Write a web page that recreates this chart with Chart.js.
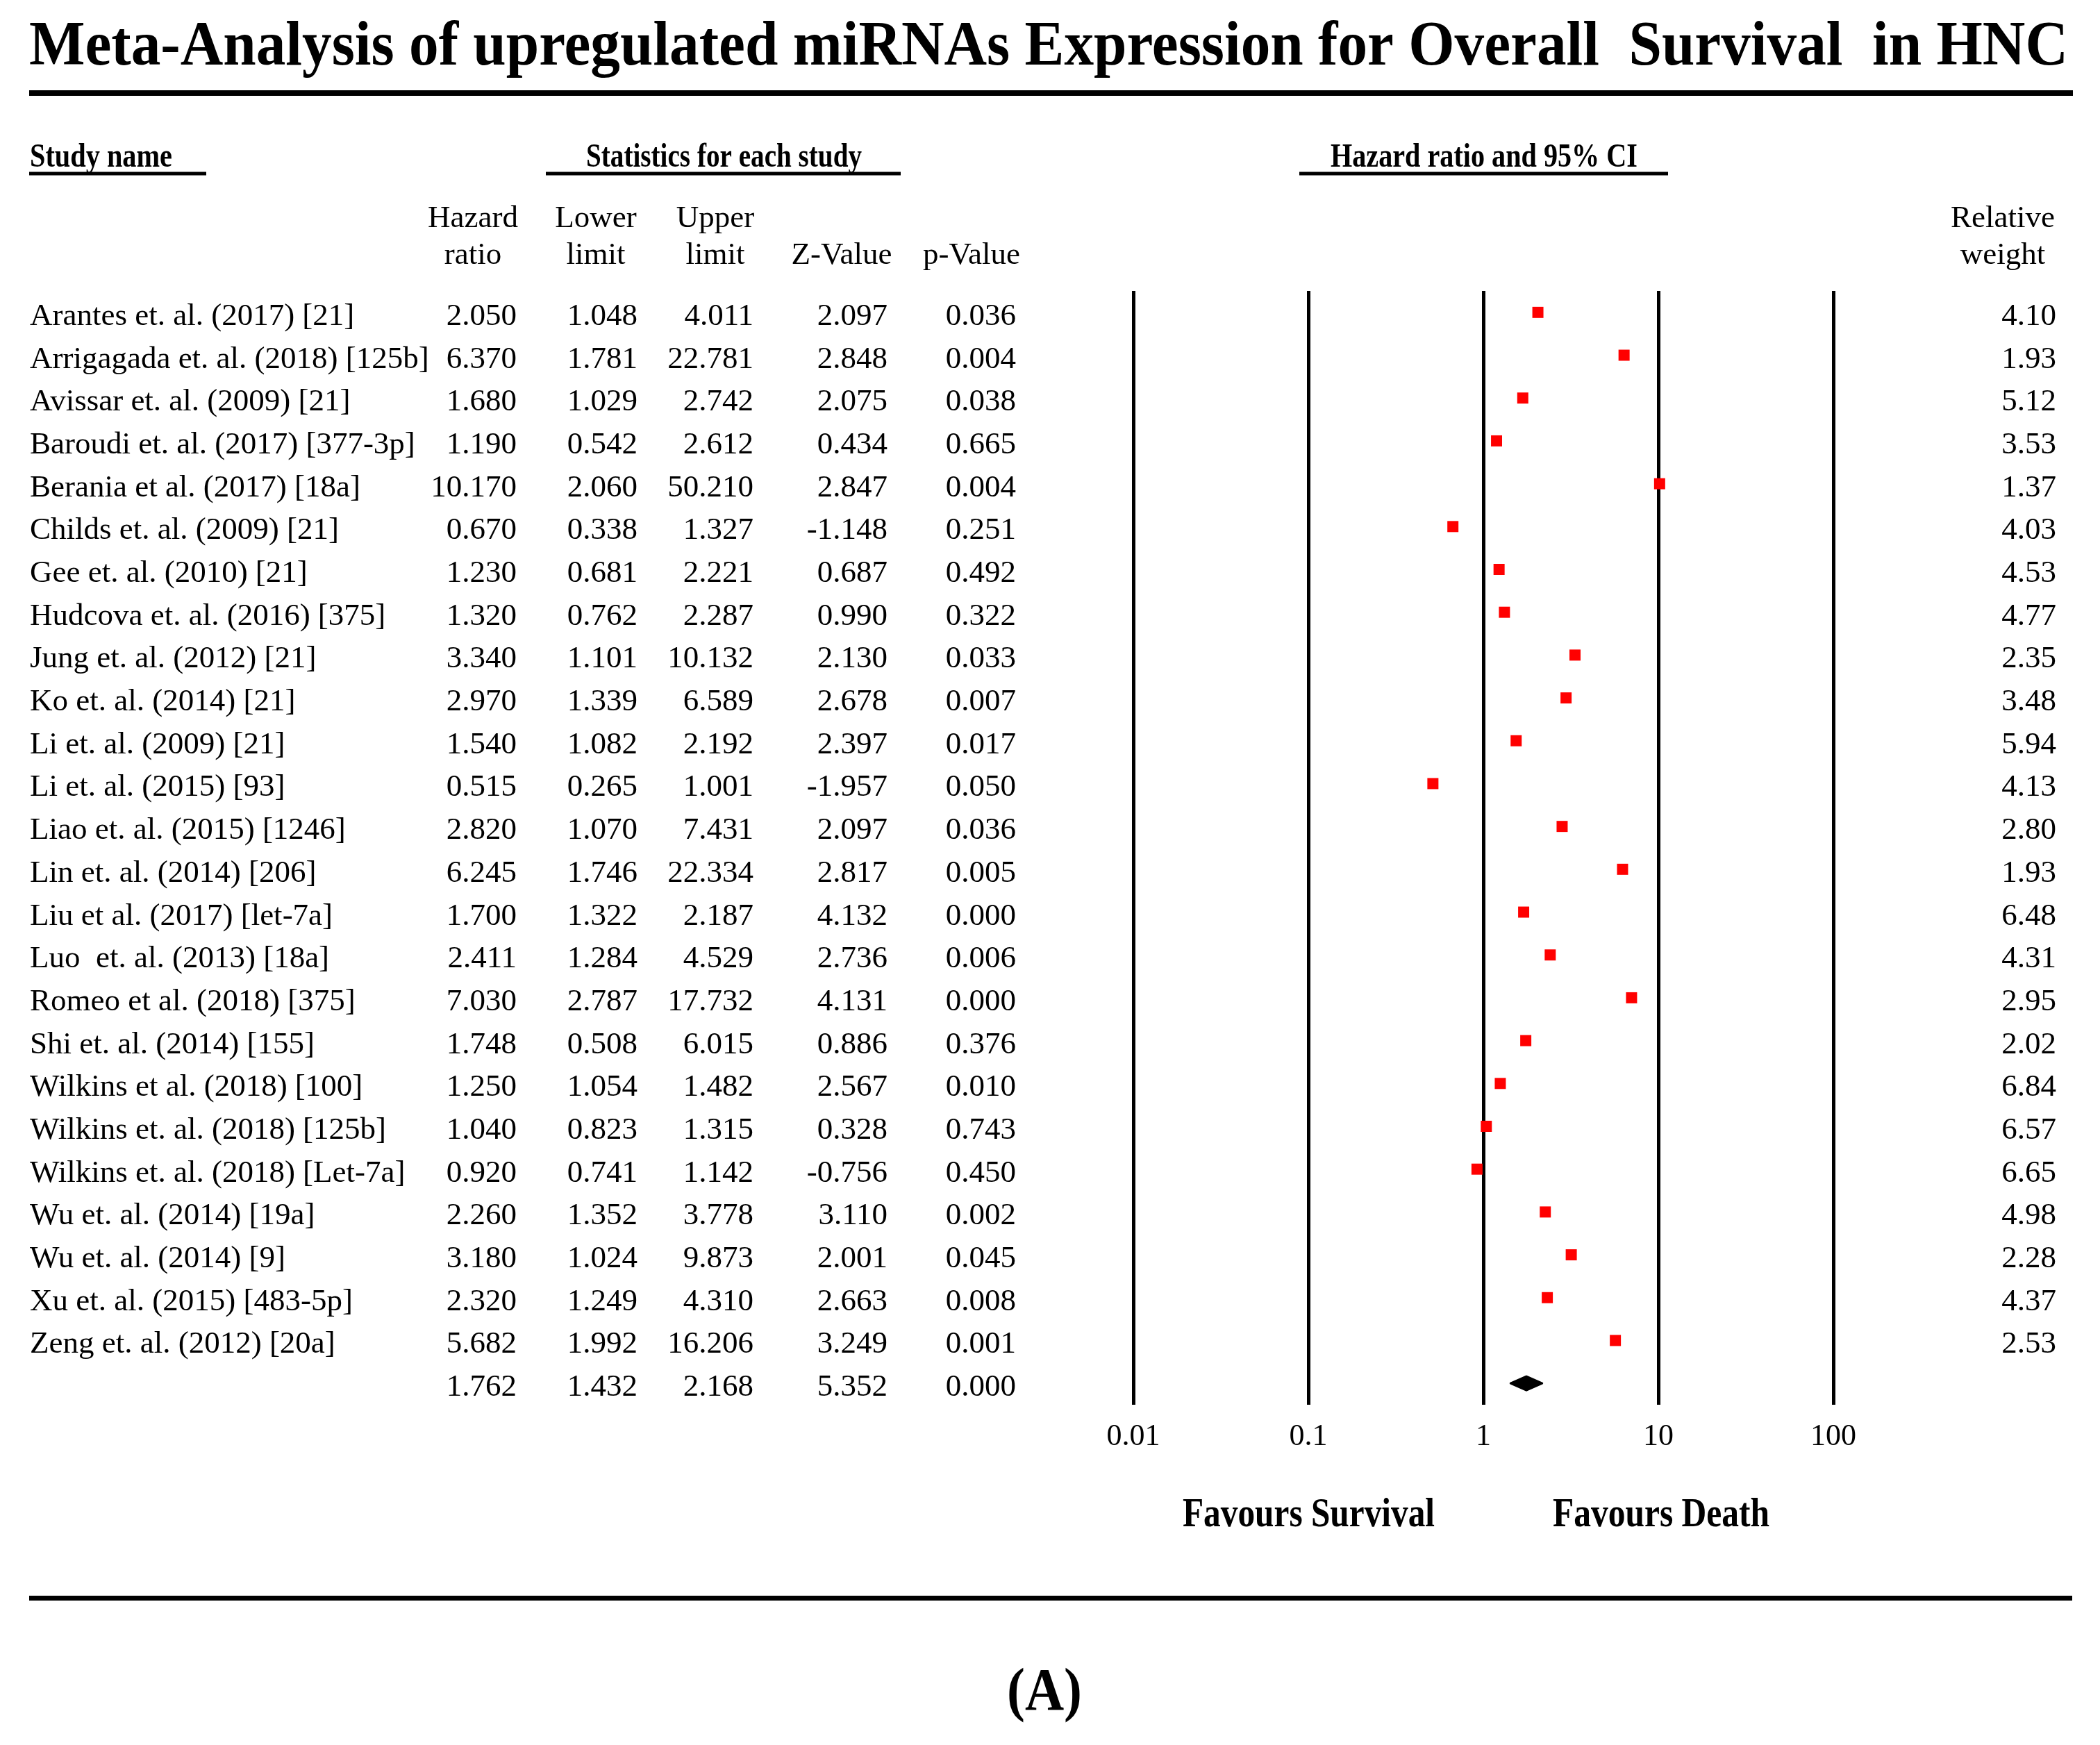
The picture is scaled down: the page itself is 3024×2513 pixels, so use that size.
<!DOCTYPE html>
<html>
<head>
<meta charset="utf-8">
<title>Meta-Analysis of upregulated miRNAs Expression for Overall Survival in HNC</title>
<script src="https://cdn.jsdelivr.net/npm/chart.js@4.4.1/dist/chart.umd.min.js"></script>
<style>
  html, body { margin: 0; padding: 0; background: #fff; }
  canvas { display: block; }
</style>
</head>
<body>
<canvas id="forest" width="3024" height="2513"></canvas>
<script>
// values
const studies = [
  "Arantes et. al. (2017) [21]",
  "Arrigagada et. al. (2018) [125b]",
  "Avissar et. al. (2009) [21]",
  "Baroudi et. al. (2017) [377-3p]",
  "Berania et al. (2017) [18a]",
  "Childs et. al. (2009) [21]",
  "Gee et. al. (2010) [21]",
  "Hudcova et. al. (2016) [375]",
  "Jung et. al. (2012) [21]",
  "Ko et. al. (2014) [21]",
  "Li et. al. (2009) [21]",
  "Li et. al. (2015) [93]",
  "Liao et. al. (2015) [1246]",
  "Lin et. al. (2014) [206]",
  "Liu et al. (2017) [let-7a]",
  "Luo  et. al. (2013) [18a]",
  "Romeo et al. (2018) [375]",
  "Shi et. al. (2014) [155]",
  "Wilkins et al. (2018) [100]",
  "Wilkins et. al. (2018) [125b]",
  "Wilkins et. al. (2018) [Let-7a]",
  "Wu et. al. (2014) [19a]",
  "Wu et. al. (2014) [9]",
  "Xu et. al. (2015) [483-5p]",
  "Zeng et. al. (2012) [20a]"
];
const hazardRatio = [2.050, 6.370, 1.680, 1.190, 10.170, 0.670, 1.230, 1.320, 3.340, 2.970, 1.540, 0.515, 2.820,
  6.245, 1.700, 2.411, 7.030, 1.748, 1.250, 1.040, 0.920, 2.260, 3.180, 2.320, 5.682];
const lowerLimit = [1.048, 1.781, 1.029, 0.542, 2.060, 0.338, 0.681, 0.762, 1.101, 1.339, 1.082, 0.265, 1.070,
  1.746, 1.322, 1.284, 2.787, 0.508, 1.054, 0.823, 0.741, 1.352, 1.024, 1.249, 1.992];
const upperLimit = [4.011, 22.781, 2.742, 2.612, 50.210, 1.327, 2.221, 2.287, 10.132, 6.589, 2.192, 1.001, 7.431,
  22.334, 2.187, 4.529, 17.732, 6.015, 1.482, 1.315, 1.142, 3.778, 9.873, 4.310, 16.206];
const zValue = [2.097, 2.848, 2.075, 0.434, 2.847, -1.148, 0.687, 0.990, 2.130, 2.678, 2.397, -1.957, 2.097,
  2.817, 4.132, 2.736, 4.131, 0.886, 2.567, 0.328, -0.756, 3.110, 2.001, 2.663, 3.249];
const pValue = [0.036, 0.004, 0.038, 0.665, 0.004, 0.251, 0.492, 0.322, 0.033, 0.007, 0.017, 0.050, 0.036,
  0.005, 0.000, 0.006, 0.000, 0.376, 0.010, 0.743, 0.450, 0.002, 0.045, 0.008, 0.001];
const relWeight = [4.10, 1.93, 5.12, 3.53, 1.37, 4.03, 4.53, 4.77, 2.35, 3.48, 5.94, 4.13, 2.80,
  1.93, 6.48, 4.31, 2.95, 2.02, 6.84, 6.57, 6.65, 4.98, 2.28, 4.37, 2.53];
// pooled estimate: hazard ratio, lower, upper, Z, p
const summaryStats = [1.762, 1.432, 2.168, 5.352, 0.000];

const axisTicks = [0.01, 0.1, 1, 10, 100];
const axisTickLabels = ["0.01", "0.1", "1", "10", "100"];

const serif = '"Liberation Serif", "Times New Roman", serif';

// draw text squeezed/stretched to a given width (the headings are condensed)
function fitText(ctx, text, left, baseline, width) {
  const natural = ctx.measureText(text).width;
  ctx.save();
  ctx.translate(left, baseline);
  ctx.scale(width / natural, 1);
  ctx.textAlign = "left";
  ctx.fillText(text, 0, 0);
  ctx.restore();
}

const forestText = {
  id: "forestText",
  beforeDraw(chart) {
    const ctx = chart.ctx;
    ctx.save();
    ctx.fillStyle = "#fff";
    ctx.fillRect(0, 0, chart.width, chart.height);
    ctx.restore();
  },
  afterDatasetsDraw(chart) {
    // pooled diamond
    const ctx = chart.ctx;
    const xs = chart.scales.x;
    const ys = chart.scales.y;
    const yc = ys.getPixelForValue(studies.length);
    const xl = xs.getPixelForValue(summaryStats[1]);
    const xc = xs.getPixelForValue(summaryStats[0]);
    const xr = xs.getPixelForValue(summaryStats[2]);
    ctx.save();
    ctx.fillStyle = "#000";
    ctx.strokeStyle = "#000";
    ctx.lineWidth = 3;
    ctx.lineJoin = "round";
    ctx.beginPath();
    ctx.moveTo(xl, yc);
    ctx.lineTo(xc, yc - 10);
    ctx.lineTo(xr, yc);
    ctx.lineTo(xc, yc + 10);
    ctx.closePath();
    ctx.fill();
    ctx.stroke();
    ctx.restore();
  },
  afterDraw(chart) {
    const ctx = chart.ctx;
    const xs = chart.scales.x;
    const ys = chart.scales.y;
    ctx.save();
    ctx.fillStyle = "#000";
    ctx.textBaseline = "alphabetic";

    // title and rules
    ctx.font = "bold 90px " + serif;
    fitText(ctx, "Meta-Analysis of upregulated miRNAs Expression for Overall  Survival  in HNC", 42, 93, 2936);
    ctx.fillRect(42, 130, 2943, 8);
    ctx.fillRect(42, 2298, 2942, 7);

    // section headings
    ctx.font = "bold 48px " + serif;
    fitText(ctx, "Study name", 43, 240, 205);
    fitText(ctx, "Statistics for each study", 844, 240, 397);
    fitText(ctx, "Hazard ratio and 95% CI", 1916, 240, 442);
    ctx.fillRect(42, 247.5, 255, 5);
    ctx.fillRect(786, 247.5, 511, 5);
    ctx.fillRect(1871, 247.5, 531, 5);

    // column headings
    ctx.font = "45px " + serif;
    ctx.textAlign = "center";
    const heads = [
      [681, "Hazard", "ratio"],
      [858, "Lower", "limit"],
      [1030, "Upper", "limit"],
      [1212, "", "Z-Value"],
      [1399, "", "p-Value"],
      [2884, "Relative", "weight"]
    ];
    heads.forEach(h => {
      if (h[1]) ctx.fillText(h[1], h[0], 327);
      ctx.fillText(h[2], h[0], 380);
    });

    // study rows
    const cols = [744, 918, 1085, 1278, 1463];
    studies.forEach((name, i) => {
      const yb = ys.getPixelForValue(i) + 18;
      ctx.textAlign = "left";
      ctx.fillText(name, 43, yb);
      ctx.textAlign = "right";
      ctx.fillText(hazardRatio[i].toFixed(3), cols[0], yb);
      ctx.fillText(lowerLimit[i].toFixed(3), cols[1], yb);
      ctx.fillText(upperLimit[i].toFixed(3), cols[2], yb);
      ctx.fillText(zValue[i].toFixed(3), cols[3], yb);
      ctx.fillText(pValue[i].toFixed(3), cols[4], yb);
      ctx.fillText(relWeight[i].toFixed(2), 2961, yb);
    });
    const ySum = ys.getPixelForValue(studies.length) + 18;
    ctx.textAlign = "right";
    summaryStats.forEach((v, k) => ctx.fillText(v.toFixed(3), cols[k], ySum));

    // favours labels under the 0.1 and 10 lines
    ctx.font = "bold 60px " + serif;
    const xSurv = xs.getPixelForValue(0.1);
    const xDeath = xs.getPixelForValue(10);
    fitText(ctx, "Favours Survival", xSurv - 181, 2198, 363);
    fitText(ctx, "Favours Death", xDeath - 152, 2198, 312);

    // panel letter
    ctx.font = "bold 87px " + serif;
    fitText(ctx, "(A)", 1450, 2462, 108);
    ctx.restore();
  }
};

const points = studies.map((s, i) => ({ x: hazardRatio[i], y: i }));

new Chart(document.getElementById("forest"), {
  type: "scatter",
  data: {
    datasets: [
      {
        label: "Hazard ratio",
        data: points,
        pointStyle: "rect",
        pointRadius: 11.3,
        pointHoverRadius: 11.3,
        backgroundColor: "#ff0000",
        borderColor: "#ff0000",
        borderWidth: 0,
      },
    ],
  },
  options: {
    responsive: false,
    animation: false,
    devicePixelRatio: 1,
    events: [],
    layout: {
      padding: { left: 1632, right: 384, top: 419, bottom: 390 },
    },
    plugins: {
      legend: { display: false },
      tooltip: { enabled: false },
    },
    scales: {
      x: {
        type: "logarithmic",
        min: 0.01,
        max: 100,
        afterBuildTicks: (scale) => {
          scale.ticks = axisTicks.map((v) => ({ value: v }));
        },
        afterFit: (scale) => {
          scale.height = 100;
        },
        grid: { color: "#000", lineWidth: 5, drawTicks: false },
        border: { display: false },
        ticks: {
          padding: 20,
          color: "#000",
          autoSkip: false,
          maxRotation: 0,
          font: { family: serif, size: 44 },
          callback: (value, index) => axisTickLabels[index],
        },
      },
      y: {
        type: "linear",
        min: -0.5,
        max: 25.5,
        reverse: true,
        display: false,
      },
    },
  },
  plugins: [forestText],
});
</script>
</body>
</html>
